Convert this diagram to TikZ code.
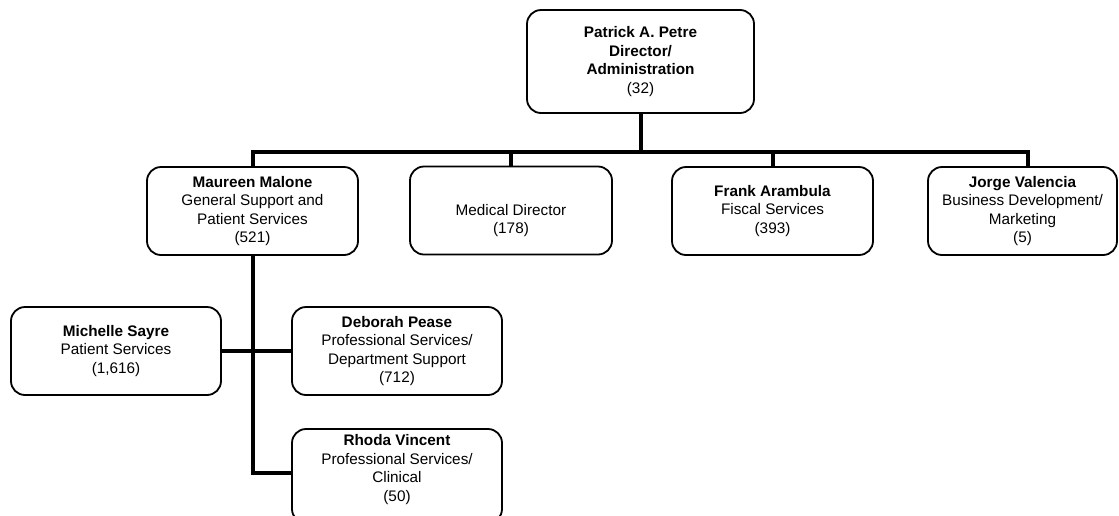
\documentclass[tikz,border=0pt]{standalone}
\usepackage{fontspec}
\setmainfont{Liberation Sans}
\usetikzlibrary{calc}
\begin{document}
\begin{tikzpicture}[x=1pt,y=-1pt,
  box/.style={draw=black, line width=1.8pt, rounded corners=14pt, align=center,
    inner sep=0pt, font=\fontsize{15.3}{18.5}\selectfont},
  conn/.style={draw=black, line width=4pt, line join=miter}]
\useasboundingbox (0,0) rectangle (1119,515);
\node[box, minimum width=227pt, minimum height=103pt] (top) at (640.5,61.5)
  {\textbf{Patrick A. Petre}\\\textbf{Director/}\\\textbf{Administration}\\(32)};
\node[box, minimum width=211pt, minimum height=88pt] (maureen) at (252.5,211)
  {\textbf{Maureen Malone}\\General Support and\\Patient Services\\(521)};
\node[box, minimum width=202pt, minimum height=88pt] (medical) at (511,210.5)
  {\strut\\Medical Director\\(178)};
\node[box, minimum width=201pt, minimum height=88pt] (frank) at (772.5,211)
  {\textbf{Frank Arambula}\\Fiscal Services\\(393)};
\node[box, minimum width=189pt, minimum height=88pt] (jorge) at (1022.5,211)
  {\textbf{Jorge Valencia}\\Business Development/\\Marketing\\(5)};
\node[box, minimum width=210pt, minimum height=88pt] (michelle) at (116,351)
  {\textbf{Michelle Sayre}\\Patient Services\\(1,616)};
\node[box, minimum width=210pt, minimum height=88pt] (deborah) at (397,351)
  {\textbf{Deborah Pease}\\Professional Services/\\Department Support\\(712)};
\node[box, minimum width=210pt, minimum height=94pt] (rhoda) at (397,476)
  {\raisebox{6pt}[\height][\depth]{\begin{tabular}{@{}c@{}}\textbf{Rhoda Vincent}\\Professional Services/\\Clinical\\(50)\end{tabular}}};
\coordinate (bus) at (640,152);
\coordinate (jc) at ($(jorge.north)+(5.5,0)$);
\coordinate (rc) at ($(rhoda.west)+(0,-3)$);
\draw[conn] (top.south) -- (top.south |- bus);
\draw[conn] (maureen.north) -- (maureen.north |- bus) -- (jc |- bus) -- (jc);
\draw[conn] (medical.north) -- (medical.north |- bus);
\draw[conn] (frank.north) -- (frank.north |- bus);
\draw[conn] (maureen.south) -- (maureen.south |- rc) -- (rc);
\draw[conn] (michelle.east) -- (deborah.west);
\end{tikzpicture}
\end{document}
